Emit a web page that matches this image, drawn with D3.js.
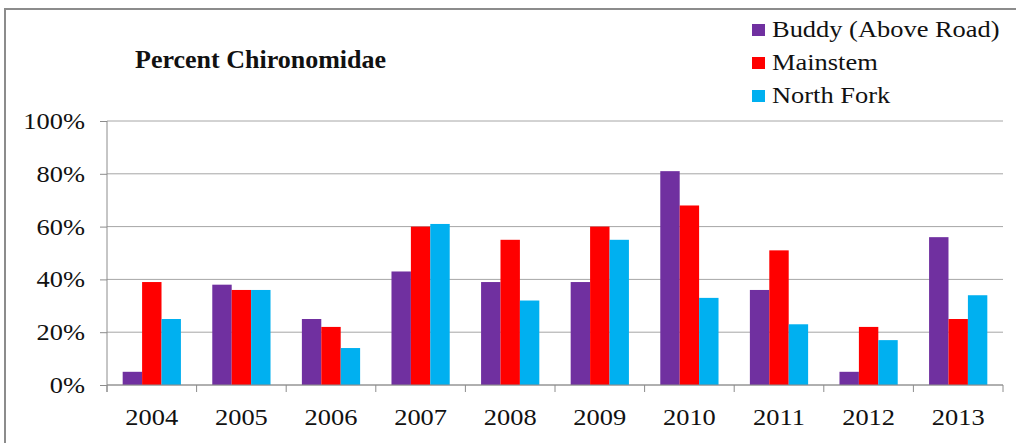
<!DOCTYPE html>
<html>
<head>
<meta charset="utf-8">
<script src="https://cdn.jsdelivr.net/npm/d3@7"></script>
<style>
  body { margin: 0; background: #fff; }
</style>
</head>
<body>
<div id="chart"></div>
<script>
const years = ['2004', '2005', '2006', '2007', '2008', '2009', '2010', '2011', '2012', '2013'];
const seriesNames = ['Buddy (Above Road)', 'Mainstem', 'North Fork'];
const buddy = [5, 38, 25, 43, 39, 39, 81, 36, 5, 56];
const mainstem = [39, 36, 22, 60, 55, 60, 68, 51, 22, 25];
const northFork = [25, 36, 14, 61, 32, 55, 33, 23, 17, 34];
const yTicks = [0, 20, 40, 60, 80, 100];
const colors = ['#7030A0', '#FF0000', '#00B0F0'];

const width = 1016, height = 443;
const margin = { top: 121, right: 13, bottom: 58, left: 107 };
const serif = 'Liberation Serif';
const stretch = 1.15; // the original text is a bit wide

const svg = d3.select('#chart').append('svg')
    .attr('width', width)
    .attr('height', height);

// put a horizontally stretched label at (x, y)
const addText = (g, x, y, txt, size, anchor) => g.append('text')
    .attr('transform', `translate(${x},${y}) scale(${stretch},1)`)
    .attr('text-anchor', anchor || 'start')
    .attr('font-family', serif)
    .attr('font-size', size)
    .attr('fill', '#111')
    .text(txt);

// outer frame
svg.append('rect')
    .attr('x', 5).attr('y', 9)
    .attr('width', width + 20).attr('height', height + 20)
    .style('fill', 'none')
    .style('stroke', '#8c8c8c')
    .style('stroke-width', 2);

const x = d3.scaleBand()
    .domain(years)
    .range([margin.left, width - margin.right])
    .paddingInner(0.35)
    .paddingOuter(0.175);

const x1 = d3.scaleBand()
    .domain(d3.range(seriesNames.length))
    .range([0, x.bandwidth()]);

const y = d3.scaleLinear()
    .domain([0, 100])
    .range([height - margin.bottom, margin.top]);

// gridlines
svg.append('g')
    .selectAll('line')
    .data(yTicks)
    .enter()
    .append('line')
    .attr('x1', margin.left)
    .attr('x2', width - margin.right)
    .attr('y1', d => y(d))
    .attr('y2', d => y(d))
    .style('stroke', '#a6a6a6')
    .style('stroke-width', 1);

const seriesData = [buddy, mainstem, northFork];

// bars
seriesData.forEach((vals, s) => {
    svg.append('g')
        .selectAll('rect')
        .data(vals)
        .enter()
        .append('rect')
        .attr('x', (d, i) => x(years[i]) + x1(s))
        .attr('y', d => y(d))
        .attr('width', x1.bandwidth())
        .attr('height', d => y(0) - y(d))
        .style('fill', colors[s]);
});

// y axis (lines from d3, labels drawn below so they can be stretched)
const yAxis = svg.append('g')
    .attr('transform', `translate(${margin.left},0)`)
    .call(d3.axisLeft(y).tickValues(yTicks).tickFormat('').tickSize(7).tickSizeOuter(0));
yAxis.selectAll('path, line').style('stroke', '#8c8c8c');
yAxis.select('.domain').attr('d', `M0,${y(100)}V${y(0) + 7}`);

const yLabels = svg.append('g');
yTicks.forEach(t => addText(yLabels, 85, y(t) + 8, t + '%', 23, 'end'));

// x axis with boundary ticks
const xAxis = svg.append('g')
    .attr('transform', `translate(0,${y(0)})`);
xAxis.append('line')
    .attr('x1', margin.left).attr('x2', width - margin.right)
    .style('stroke', '#8c8c8c');
const step = x.step();
xAxis.selectAll('.bound')
    .data(d3.range(years.length + 1))
    .enter()
    .append('line')
    .attr('x1', i => margin.left + i * step)
    .attr('x2', i => margin.left + i * step)
    .attr('y1', 0).attr('y2', 7)
    .style('stroke', '#8c8c8c');
years.forEach(yr => addText(xAxis, x(yr) + x.bandwidth() / 2, 40, yr, 23, 'middle'));

// title
svg.append('text')
    .attr('x', 135)
    .attr('y', 68)
    .attr('font-family', serif)
    .attr('font-size', 26)
    .attr('font-weight', 'bold')
    .attr('fill', '#111')
    .text('Percent Chironomidae');

// legend
const legend = svg.append('g');
seriesNames.forEach((name, i) => {
    const base = 37 + i * 33;
    legend.append('rect')
        .attr('x', 752).attr('y', base - 13)
        .attr('width', 13).attr('height', 12)
        .style('fill', colors[i]);
    addText(legend, 772, base, name, 23);
});
</script>
</body>
</html>
